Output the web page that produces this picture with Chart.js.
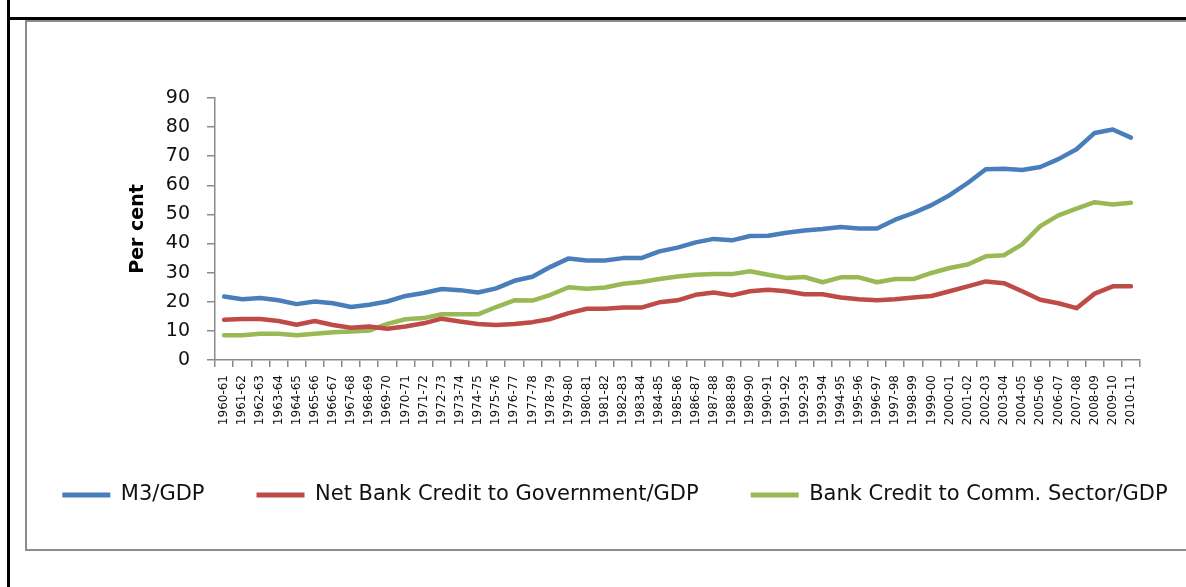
<!DOCTYPE html>
<html>
<head>
<meta charset="utf-8">
<script src="https://cdn.jsdelivr.net/npm/chart.js@4"></script>
<style>
  html, body { margin: 0; padding: 0; background: #fff; overflow: hidden; }
  body { width: 1186px; height: 587px; position: relative; }
  .rule { position: absolute; }
  #chart { position: absolute; left: 0; top: 0; }
</style>
</head>
<body>
<div class="rule" style="left:7px;top:0;width:3px;height:587px;background:#000"></div>
<div class="rule" style="left:7px;top:17px;width:1179px;height:3px;background:#000"></div>
<div class="rule" style="left:25px;top:20px;width:1161px;height:2px;background:#8c8c8c"></div>
<div class="rule" style="left:25px;top:20px;width:2px;height:531px;background:#8c8c8c"></div>
<div class="rule" style="left:25px;top:549px;width:1161px;height:2px;background:#8c8c8c"></div>
<canvas id="chart" width="1230" height="587"></canvas>
<script>
const years = ['1960-61', '1961-62', '1962-63', '1963-64', '1964-65', '1965-66', '1966-67', '1967-68',
    '1968-69', '1969-70', '1970-71', '1971-72', '1972-73', '1973-74', '1974-75', '1975-76', '1976-77',
    '1977-78', '1978-79', '1979-80', '1980-81', '1981-82', '1982-83', '1983-84', '1984-85', '1985-86',
    '1986-87', '1987-88', '1988-89', '1989-90', '1990-91', '1991-92', '1992-93', '1993-94', '1994-95',
    '1995-96', '1996-97', '1997-98', '1998-99', '1999-00', '2000-01', '2001-02', '2002-03', '2003-04',
    '2004-05', '2005-06', '2006-07', '2007-08', '2008-09', '2009-10', '2010-11'];

// M3/GDP
const m3 = [21.8, 20.9, 21.3, 20.5, 19.2, 20.1, 19.5, 18.2, 19.0, 20.1, 22.0, 23.0, 24.4, 24.0, 23.2,
    24.6, 27.2, 28.6, 32.0, 34.9, 34.2, 34.2, 35.0, 35.0, 37.3, 38.6, 40.4, 41.6, 41.1, 42.6, 42.7,
    43.7, 44.5, 45.0, 45.7, 45.2, 45.2, 48.2, 50.5, 53.2, 56.6, 60.8, 65.5, 65.7, 65.3, 66.3, 69.0,
    72.4, 78.0, 79.2, 76.4];
// Net Bank Credit to Government/GDP
const govCredit = [13.8, 14.1, 14.1, 13.4, 12.1, 13.4, 12.0, 11.1, 11.5, 10.7, 11.5, 12.6, 14.2, 13.2,
    12.4, 12.0, 12.4, 13.0, 14.1, 16.1, 17.6, 17.6, 18.0, 18.0, 19.8, 20.5, 22.4, 23.2, 22.2, 23.6,
    24.1, 23.6, 22.6, 22.6, 21.5, 20.9, 20.5, 20.9, 21.5, 22.0, 23.6, 25.3, 27.0, 26.4, 23.6, 20.7,
    19.5, 17.8, 22.8, 25.3, 25.3];
// Bank Credit to Comm. Sector/GDP
const commCredit = [8.5, 8.5, 9.0, 9.0, 8.5, 9.0, 9.5, 9.8, 10.1, 12.4, 14.0, 14.4, 15.7, 15.7, 15.7,
    18.2, 20.5, 20.4, 22.4, 25.0, 24.5, 24.9, 26.2, 26.8, 27.8, 28.7, 29.3, 29.5, 29.5, 30.5, 29.3,
    28.2, 28.5, 26.7, 28.4, 28.4, 26.7, 27.8, 27.8, 29.9, 31.6, 32.8, 35.6, 36.0, 39.7, 46.0, 49.7,
    52.0, 54.2, 53.4, 54.0];

const axisGrey = '#8a8a8a';
const font = 'DejaVu Sans';

function series(label, data, color) {
    return {
        label: label,
        data: data,
        borderColor: color,
        backgroundColor: color,
        borderWidth: 4.5,
        pointRadius: 0,
        tension: 0,
        borderCapStyle: 'round',
        borderJoinStyle: 'round',
        fill: false,
    };
}

new Chart(document.getElementById('chart'), {
    type: 'line',
    data: {
        labels: years,
        datasets: [
            series('M3/GDP', m3, '#4a7ebb'),
            series('Net Bank Credit to Government/GDP', govCredit, '#be4b48'),
            series('Bank Credit to Comm. Sector/GDP', commCredit, '#98b954'),
        ],
    },
    options: {
        responsive: false,
        animation: false,
        devicePixelRatio: 1,
        layout: {
            padding: { top: 98, bottom: 71.5, left: 0, right: 0 },
        },
        plugins: {
            tooltip: { enabled: false },
            legend: {
                position: 'bottom',
                labels: {
                    boxWidth: 48,
                    boxHeight: 5,
                    padding: 52,
                    color: '#111',
                    font: { family: font, size: 21 },
                    generateLabels: (chart) => {
                        const items = Chart.defaults.plugins.legend.labels.generateLabels(chart);
                        items.forEach(item => {
                            item.lineWidth = 0;
                            item.fillStyle = item.strokeStyle;
                        });
                        return items;
                    },
                },
            },
        },
        scales: {
            x: {
                offset: true,
                afterFit: (scale) => { scale.height = 72.5; },
                grid: {
                    offset: true,
                    drawOnChartArea: false,
                    drawTicks: true,
                    tickLength: 7,
                    color: axisGrey,
                    lineWidth: 1.5,
                },
                border: { color: axisGrey, width: 1.5 },
                ticks: {
                    autoSkip: false,
                    minRotation: 90,
                    maxRotation: 90,
                    padding: 8,
                    color: '#111',
                    font: { family: font, size: 12 },
                },
            },
            y: {
                min: 0,
                max: 90,
                afterFit: (scale) => { scale.width = 215; },
                grid: {
                    drawOnChartArea: false,
                    drawTicks: true,
                    tickLength: 8,
                    color: axisGrey,
                    lineWidth: 1.5,
                },
                border: { color: axisGrey, width: 1.5 },
                ticks: {
                    stepSize: 10,
                    padding: 17,
                    color: '#111',
                    font: { family: font, size: 19 },
                },
                title: {
                    display: true,
                    text: 'Per cent',
                    color: '#000',
                    padding: { top: 127, bottom: 0 },
                    font: { family: font, size: 19, weight: 'bold' },
                },
            },
            yR: {
                type: 'linear',
                position: 'right',
                afterFit: (scale) => { scale.width = 90; },
                grid: { display: false },
                border: { display: false },
                ticks: { display: false },
            },
        },
    },
});
</script>
</body>
</html>
